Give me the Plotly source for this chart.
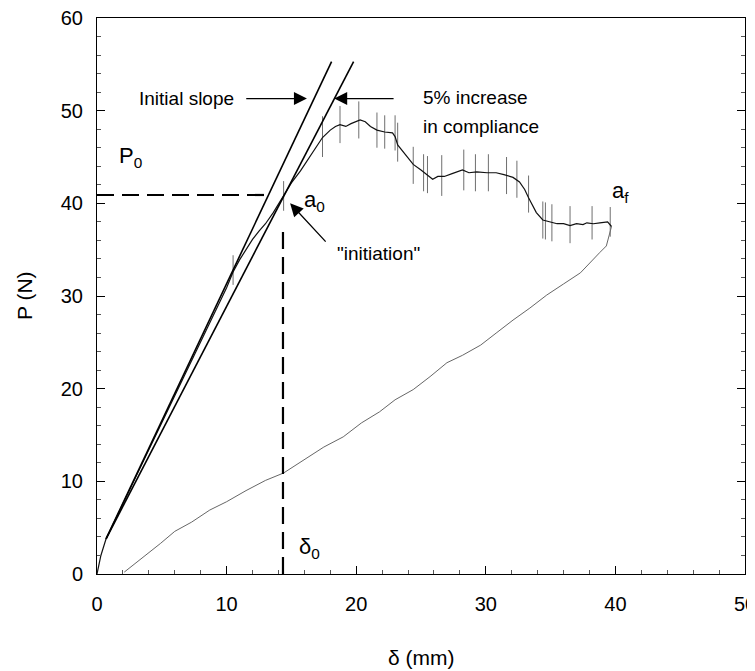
import plotly.graph_objects as go

# ---------------- data ----------------
load_x = [0, 0.3, 0.7, 2.0, 3.0, 4.0, 5.0, 6.0, 7.0, 8.0, 9.0, 10.0, 10.5, 11.0, 11.5,
          12.0, 12.5, 13.0, 13.6, 14.0, 14.5, 15.0, 15.7, 16.2, 16.8, 17.4, 18.0, 18.4,
          18.75, 19.2, 19.6, 20.0, 20.3, 20.7, 21.1, 21.6, 22.2, 22.8, 23.0, 23.2, 23.6,
          24.0, 24.4, 25.0, 25.5, 25.9, 26.3, 26.8, 27.4, 28.2, 28.7, 29.3, 30.1, 30.8,
          31.4, 32.1, 32.6, 33.0, 33.3, 33.6, 33.9, 34.4, 34.9, 35.5, 36.0, 36.5, 37.0,
          37.5, 37.8, 38.3, 38.8, 39.4, 39.7]
load_y = [0, 2.0, 3.8, 7.6, 10.6, 13.4, 16.4, 19.3, 22.3, 25.2, 28.1, 30.9, 32.6, 33.9, 35.0,
          36.1, 37.0, 37.8, 39.0, 39.9, 41.0, 42.2, 43.5, 44.6, 45.9, 47.1, 47.9, 48.3,
          48.5, 48.3, 48.6, 48.8, 49.0, 48.8, 48.3, 47.9, 47.7, 47.6, 47.2, 46.3, 45.6,
          44.9, 44.2, 43.6, 43.0, 42.6, 42.9, 42.9, 43.2, 43.6, 43.3, 43.4, 43.3, 43.3,
          43.1, 42.8, 42.3, 41.5, 40.6, 39.8, 39.0, 38.2, 38.0, 37.8, 37.8, 37.6, 37.8,
          37.7, 37.9, 37.8, 37.9, 38.0, 37.5]

unload_x = [39.7, 39.6, 39.3, 38.8, 38.3, 37.3, 36.0, 34.7, 33.4, 32.1, 30.8, 29.6, 28.2,
            27.0, 25.7, 24.4, 23.0, 21.8, 20.4, 19.0, 17.5, 16.0, 14.4, 13.0, 11.5, 10.0,
            8.7, 7.3, 6.0, 4.9, 3.5, 2.1]
unload_y = [37.5, 36.9, 35.4, 34.7, 34.0, 32.5, 31.3, 30.1, 28.7, 27.4, 26.0, 24.7, 23.6,
            22.8, 21.3, 19.9, 18.8, 17.5, 16.3, 14.8, 13.7, 12.3, 10.9, 10.1, 9.0, 7.8,
            6.9, 5.6, 4.6, 3.3, 1.8, 0.2]

# vertical scatter marks along the loading curve
bar_x = [10.5, 14.4, 17.4, 18.75, 20.2, 21.6, 22.2, 23.0, 23.2, 24.4, 25.2, 25.5, 26.6,
         28.3, 29.2, 30.2, 31.6, 32.4, 33.3, 34.4, 34.6, 35.1, 36.5, 38.2, 39.6]
bar_y = [32.8, 40.8, 47.2, 48.5, 49.0, 47.9, 47.7, 47.6, 46.6, 44.1, 43.3, 43.1, 43.0,
         43.6, 43.3, 43.3, 43.0, 42.6, 41.0, 38.2, 38.1, 37.9, 37.7, 37.9, 38.0]
bar_half = [1.6, 1.6, 2.2, 2.0, 2.0, 1.9, 1.8, 1.9, 2.1, 2.0, 2.0, 2.0, 2.2,
            2.2, 2.0, 2.0, 2.0, 2.0, 2.0, 2.0, 2.0, 2.0, 2.0, 1.8, 1.6]

# straight lines: initial slope and 5% compliance increase
initial_x = [0.7, 18.1]
initial_y = [3.8, 55.3]
offset_x = [0.7, 19.8]
offset_y = [3.8, 55.3]

# initiation point
P0 = 40.9
delta0 = 14.35
h_dash_x = [0, 13.3]
v_dash_y = [0, 37.2]

x_ticks = [0, 10, 20, 30, 40, 50]
y_ticks = [0, 10, 20, 30, 40, 50, 60]

FONT = "Liberation Sans, Arial, Helvetica, sans-serif"

fig = go.Figure()

# unloading (thin grey)
fig.add_trace(go.Scatter(x=unload_x, y=unload_y, mode="lines",
                         line=dict(color="#555555", width=0.9), hoverinfo="skip"))
# vertical marks
fig.add_trace(go.Scatter(x=bar_x, y=bar_y, mode="markers",
                         marker=dict(size=1, color="rgba(0,0,0,0)"),
                         error_y=dict(type="data", array=bar_half, visible=True,
                                      color="#6f6f6f", thickness=1, width=0),
                         hoverinfo="skip"))
# loading curve
fig.add_trace(go.Scatter(x=load_x, y=load_y, mode="lines",
                         line=dict(color="#111111", width=1.2), hoverinfo="skip"))
# slope lines
fig.add_trace(go.Scatter(x=initial_x, y=initial_y, mode="lines",
                         line=dict(color="black", width=1.6), hoverinfo="skip"))
fig.add_trace(go.Scatter(x=offset_x, y=offset_y, mode="lines",
                         line=dict(color="black", width=1.6), hoverinfo="skip"))
# dashed construction lines
fig.add_trace(go.Scatter(x=h_dash_x, y=[P0, P0], mode="lines",
                         line=dict(color="black", width=2.2, dash="17px,8px"), hoverinfo="skip"))
fig.add_trace(go.Scatter(x=[delta0, delta0], y=v_dash_y, mode="lines",
                         line=dict(color="black", width=2.2, dash="17px,8px"), hoverinfo="skip"))

ann = []
arrow_style = dict(text="", showarrow=True, arrowhead=2, arrowsize=2.0, arrowwidth=1.3,
                   arrowcolor="black", xref="x", yref="y", axref="x", ayref="y")
ann.append(dict(x=16.2, y=51.3, ax=11.4, ay=51.3, **arrow_style))
ann.append(dict(x=18.3, y=51.3, ax=23.0, ay=51.3, **arrow_style))
ann.append(dict(x=14.9, y=40.0, ax=17.75, ay=35.7, **arrow_style))

TXT = dict(size=19, family=FONT, color="black")
LBL = dict(size=22, family=FONT, color="black")
ann.append(dict(x=6.9, y=51.3, xref="x", yref="y", text="Initial slope", showarrow=False,
                font=TXT))
ann.append(dict(x=25.0, y=51.4, xref="x", yref="y", text="5% increase", showarrow=False,
                xanchor="left", font=TXT))
ann.append(dict(x=25.0, y=48.3, xref="x", yref="y", text="in compliance", showarrow=False,
                xanchor="left", font=TXT))
ann.append(dict(x=18.4, y=34.6, xref="x", yref="y", text="\"initiation\"", showarrow=False,
                xanchor="left", font=TXT))
ann.append(dict(x=1.55, y=45.0, xref="x", yref="y", text="P<sub>0</sub>", showarrow=False,
                xanchor="left", font=LBL))
ann.append(dict(x=15.8, y=40.2, xref="x", yref="y", text="a<sub>0</sub>", showarrow=False,
                xanchor="left", font=LBL))
ann.append(dict(x=39.6, y=41.2, xref="x", yref="y", text="a<sub>f</sub>", showarrow=False,
                xanchor="left", font=LBL))
ann.append(dict(x=15.4, y=2.8, xref="x", yref="y", text="δ<sub>0</sub>", showarrow=False,
                xanchor="left", font=LBL))
# axis titles
ann.append(dict(x=0.5, y=0, xref="paper", yref="paper", text="δ (mm)", showarrow=False,
                yanchor="top", yshift=-70, font=dict(size=21, family=FONT, color="black")))
ann.append(dict(x=0, y=0.5, xref="paper", yref="paper", text="P (N)", showarrow=False,
                textangle=-90, xanchor="center", xshift=-73,
                font=dict(size=21, family=FONT, color="black")))

# the page places the figure 8px in from the top-left corner, so the
# figure is sized to the remaining area (plot box at 97..745 x 18..574 on the page)
fig.update_layout(
    width=747, height=663,
    margin=dict(l=89, r=10, t=10, b=97, autoexpand=False),
    plot_bgcolor="white", paper_bgcolor="white",
    showlegend=False,
    font=dict(family=FONT, color="black"),
    annotations=ann,
)
fig.update_xaxes(range=[0, 50], tickvals=x_ticks, ticks="inside", ticklen=8, tickwidth=1,
                 tickcolor="black", showline=True, linecolor="black", linewidth=1,
                 mirror=True, showgrid=False, zeroline=False, automargin=False,
                 ticklabeloverflow="allow",
                 tickfont=dict(size=20, family=FONT, color="black"), ticklabelstandoff=12,
                 minor=dict(dtick=2, ticks="inside", ticklen=4, tickcolor="#555555"))
fig.update_yaxes(range=[0, 60], tickvals=y_ticks, ticks="inside", ticklen=8, tickwidth=1,
                 tickcolor="black", showline=True, linecolor="black", linewidth=1,
                 mirror="ticks", showgrid=False, zeroline=False, automargin=False,
                 ticklabeloverflow="allow",
                 tickfont=dict(size=20, family=FONT, color="black"), ticklabelstandoff=9,
                 minor=dict(dtick=2, ticks="inside", ticklen=4, tickcolor="#555555"))

fig.write_html("out.html")
